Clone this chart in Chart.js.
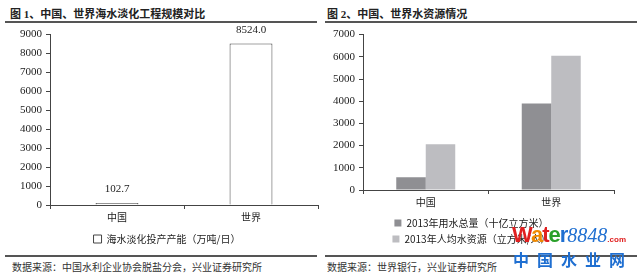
<!DOCTYPE html>
<html>
<head>
<meta charset="utf-8">
<script src="https://cdn.jsdelivr.net/npm/chart.js@4"></script>
<style>
  body { margin: 0; background: #fff; width: 640px; height: 274px; position: relative; overflow: hidden;
         font-family: "Liberation Serif", "Noto Sans CJK SC", serif; color: #222; }
  .title { position: absolute; top: 5px; font-size: 11px; font-weight: bold; color: #222; }
  .hr { position: absolute; height: 2px; background: #555; }
  .src { position: absolute; top: 259px; font-size: 10px; color: #333; }
  .box { position: absolute; top: 24px; width: 320px; height: 230px; }
  .wm1 { position: absolute; left: 512px; top: 222px; font: bold 22px "Liberation Sans", sans-serif; letter-spacing: -1px; }
  .wm2 { position: absolute; left: 513px; top: 247px; font: bold 16px "Noto Sans CJK SC", sans-serif; color: #1f6fd1; letter-spacing: 8px; }
</style>
</head>
<body>
<div class="title" style="left:10px">图 1、中国、世界海水淡化工程规模对比</div>
<div class="title" style="left:327px">图 2、中国、世界水资源情况</div>
<div class="hr" style="left:5px; width:312px; top:21px"></div>
<div class="hr" style="left:325px; width:312px; top:21px"></div>
<div class="box" style="left:0"><canvas id="c1"></canvas></div>
<div class="box" style="left:320px"><canvas id="c2"></canvas></div>
<div class="hr" style="left:5px; width:312px; top:255px"></div>
<div class="hr" style="left:325px; width:312px; top:255px"></div>
<div class="src" style="left:12px">数据来源：中国水利企业协会脱盐分会，兴业证券研究所</div>
<div class="src" style="left:327px">数据来源：世界银行，兴业证券研究所</div>
<div class="wm1"><span style="color:#e02020">W</span><span style="color:#f08a00">a</span><span style="color:#e02020">t</span><span style="color:#2aa02a">e</span><span style="color:#1f6fd1">r</span><span style="color:#1f6fd1;font:italic 20px 'Liberation Serif',serif;letter-spacing:0">8848</span><span style="color:#e02020;font-size:8px;letter-spacing:0">.com</span></div>
<div class="wm2">中国水业网</div>
<script>
const categories = ['中国', '世界'];
const desalCapacity = [102.7, 8524.0];
const waterUse2013 = [570, 3900];
const waterPerCapita2013 = [2060, 6050];
const ticks1 = [0, 1000, 2000, 3000, 4000, 5000, 6000, 7000, 8000, 9000];
const ticks2 = [0, 1000, 2000, 3000, 4000, 5000, 6000, 7000];

const serif = "'Liberation Serif', 'Noto Sans CJK SC', serif";
Chart.defaults.font.family = serif;
Chart.defaults.color = '#222';

// writes the value above each bar of the first dataset
const valueLabels = {
  id: 'valueLabels',
  afterDatasetsDraw(chart) {
    const ctx = chart.ctx;
    const meta = chart.getDatasetMeta(0);
    ctx.save();
    ctx.font = '11px ' + serif;
    ctx.fillStyle = '#222';
    ctx.textAlign = 'center';
    ctx.textBaseline = 'bottom';
    meta.data.forEach((bar, i) => {
      ctx.fillText(desalCapacity[i].toFixed(1), bar.x, bar.y - 8);
    });
    ctx.restore();
  }
};

function axes(max, tickValues) {
  return {
    x: {
      grid: { display: true, offset: true, drawOnChartArea: false, tickLength: 4, color: '#444' },
      border: { color: '#444', width: 1 },
      ticks: { font: { size: 10 }, padding: 3 }
    },
    y: {
      min: 0, max: max,
      afterBuildTicks(axis) { axis.ticks = tickValues.map(v => ({ value: v })); },
      grid: { display: true, drawOnChartArea: false, tickLength: 4, color: '#444' },
      border: { color: '#444', width: 1 },
      ticks: { font: { size: 11 }, padding: 4, callback: v => String(v) }
    }
  };
}

new Chart(document.getElementById('c1'), {
  type: 'bar',
  data: {
    labels: categories,
    datasets: [{
      label: '海水淡化投产产能（万吨/日）',
      data: desalCapacity,
      backgroundColor: '#ffffff',
      borderColor: '#444',
      borderWidth: 1,
      categoryPercentage: 0.32,
      barPercentage: 1
    }]
  },
  options: {
    responsive: true,
    maintainAspectRatio: false,
    animation: false,
    layout: { padding: { top: 1, right: 2, left: 16, bottom: 0 } },
    scales: axes(9000, ticks1),
    plugins: {
      legend: {
        position: 'bottom',
        labels: { boxWidth: 8, boxHeight: 8, padding: 7, font: { size: 10, family: "'Noto Sans CJK SC', serif" }, color: '#222' }
      },
      tooltip: { enabled: false }
    }
  },
  plugins: [valueLabels]
});

new Chart(document.getElementById('c2'), {
  type: 'bar',
  data: {
    labels: categories,
    datasets: [{
      label: '2013年用水总量（十亿立方米）',
      data: waterUse2013,
      backgroundColor: '#8f8f93',
      borderWidth: 0,
      categoryPercentage: 0.47,
      barPercentage: 1
    }, {
      label: '2013年人均水资源（立方米/人）',
      data: waterPerCapita2013,
      backgroundColor: '#bdbdc1',
      borderWidth: 0,
      categoryPercentage: 0.47,
      barPercentage: 1
    }]
  },
  options: {
    responsive: true,
    maintainAspectRatio: false,
    animation: false,
    layout: { padding: { top: 0, right: 26, left: 9, bottom: 0 } },
    scales: axes(7000, ticks2),
    plugins: {
      legend: {
        position: 'bottom',
        labels: { boxWidth: 7, boxHeight: 7, padding: 6, font: { size: 10, family: "'Noto Sans CJK SC', serif" }, color: '#222' }
      },
      tooltip: { enabled: false }
    }
  }
});
</script>
</body>
</html>
